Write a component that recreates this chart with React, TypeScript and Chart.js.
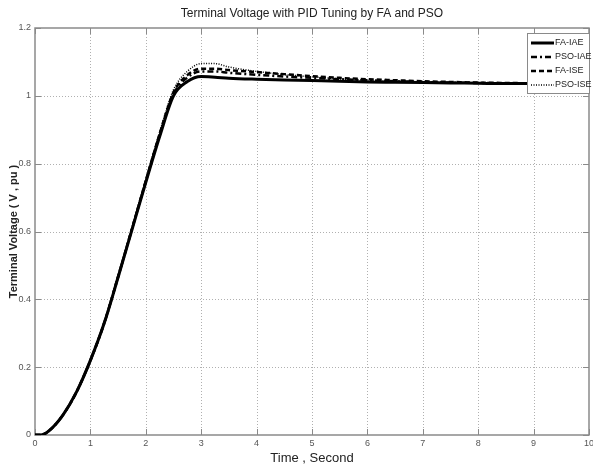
import React, { useEffect, useRef } from "react";
import { Chart, registerables } from "chart.js";

Chart.register(...registerables);

const TIME = [0, 0.1, 0.25, 0.5, 0.75, 1.0, 1.25, 1.5, 1.75, 2.0, 2.25, 2.5, 2.75, 3.0, 3.25, 3.5, 4, 4.5, 5, 5.5, 6, 6.5, 7, 7.5, 8, 8.5, 9, 9.5, 10];

const FA_IAE = [0, 0, 0.012, 0.058, 0.127, 0.22, 0.33, 0.465, 0.605, 0.745, 0.88, 1.0, 1.042, 1.057, 1.055, 1.052, 1.049, 1.047, 1.045, 1.043, 1.041, 1.04, 1.039, 1.038, 1.037, 1.036, 1.036, 1.035, 1.035];
const PSO_IAE = [0, 0, 0.012, 0.058, 0.127, 0.22, 0.33, 0.466, 0.607, 0.748, 0.885, 1.005, 1.054, 1.072, 1.072, 1.068, 1.062, 1.057, 1.053, 1.049, 1.046, 1.043, 1.041, 1.039, 1.038, 1.037, 1.036, 1.035, 1.035];
const FA_ISE = [0, 0, 0.012, 0.058, 0.127, 0.22, 0.331, 0.467, 0.608, 0.75, 0.888, 1.01, 1.061, 1.08, 1.08, 1.076, 1.07, 1.064, 1.058, 1.053, 1.049, 1.046, 1.043, 1.041, 1.039, 1.038, 1.037, 1.036, 1.036];
const PSO_ISE = [0, 0, 0.012, 0.058, 0.127, 0.22, 0.332, 0.468, 0.61, 0.753, 0.893, 1.018, 1.072, 1.095, 1.095, 1.085, 1.072, 1.063, 1.056, 1.05, 1.046, 1.043, 1.041, 1.039, 1.038, 1.037, 1.036, 1.035, 1.035];

const SERIES_NAMES = ["FA-IAE", "PSO-IAE", "FA-ISE", "PSO-ISE"];
const X_TICKS = [0, 1, 2, 3, 4, 5, 6, 7, 8, 9, 10];
const Y_TICKS = [0, 0.2, 0.4, 0.6, 0.8, 1, 1.2];

const TITLE = "Terminal Voltage with PID Tuning by FA and PSO";
const X_TITLE = "Time , Second";
const Y_TITLE = "Terminal Voltage ( V , pu )";

const FONT = "'Liberation Sans Narrow', 'Liberation Sans', Arial, sans-serif";

const pts = (ys: number[]) => TIME.map((t, i) => ({ x: t, y: ys[i] }));

const framePlugin = {
  id: "frame",
  beforeDatasetsDraw(chart: any) {
    const { ctx, chartArea: a, scales } = chart;
    const xs = scales.x;
    const ys = scales.y;
    ctx.save();
    ctx.strokeStyle = "#b0b0b0";
    ctx.lineWidth = 1;
    ctx.setLineDash([1, 2]);
    X_TICKS.forEach((v) => {
      const px = Math.round(xs.getPixelForValue(v)) + 0.5;
      if (v === 0 || v === 10) return;
      ctx.beginPath();
      ctx.moveTo(px, a.top);
      ctx.lineTo(px, a.bottom);
      ctx.stroke();
    });
    Y_TICKS.forEach((v) => {
      const py = Math.round(ys.getPixelForValue(v)) + 0.5;
      if (v === 0 || v === 1.2) return;
      ctx.beginPath();
      ctx.moveTo(a.left, py);
      ctx.lineTo(a.right, py);
      ctx.stroke();
    });
    ctx.setLineDash([]);
    ctx.strokeStyle = "#8a8a8a";
    ctx.lineWidth = 1.5;
    ctx.strokeRect(a.left, a.top, a.right - a.left, a.bottom - a.top);
    ctx.lineWidth = 1;
    X_TICKS.forEach((v) => {
      const px = Math.round(xs.getPixelForValue(v)) + 0.5;
      ctx.beginPath();
      ctx.moveTo(px, a.bottom);
      ctx.lineTo(px, a.bottom - 6);
      ctx.moveTo(px, a.top);
      ctx.lineTo(px, a.top + 6);
      ctx.stroke();
    });
    Y_TICKS.forEach((v) => {
      const py = Math.round(ys.getPixelForValue(v)) + 0.5;
      ctx.beginPath();
      ctx.moveTo(a.left, py);
      ctx.lineTo(a.left + 6, py);
      ctx.moveTo(a.right, py);
      ctx.lineTo(a.right - 6, py);
      ctx.stroke();
    });
    ctx.restore();
  },
  afterDraw(chart: any) {
    const { ctx, chartArea: a } = chart;
    ctx.save();
    ctx.fillStyle = "#222";
    ctx.font = `12px ${FONT}`;
    ctx.textAlign = "center";
    ctx.textBaseline = "middle";
    ctx.fillText(TITLE, (a.left + a.right) / 2, 14);
    const bx = 527, by = 33, bw = 62, bh = 60;
    ctx.fillStyle = "#fff";
    ctx.fillRect(bx, by, bw, bh);
    ctx.strokeStyle = "#8a8a8a";
    ctx.lineWidth = 1;
    ctx.strokeRect(bx + 0.5, by + 0.5, bw, bh);
    const rows = [43, 57, 71, 85];
    chart.data.datasets.forEach((ds: any, i: number) => {
      const y = rows[i];
      ctx.strokeStyle = ds.borderColor;
      ctx.lineWidth = ds.borderWidth;
      ctx.setLineDash(ds.borderDash || []);
      ctx.beginPath();
      ctx.moveTo(531, y);
      ctx.lineTo(554, y);
      ctx.stroke();
      ctx.setLineDash([]);
      ctx.fillStyle = "#222";
      ctx.font = `9px ${FONT}`;
      ctx.textAlign = "left";
      ctx.textBaseline = "middle";
      ctx.fillText(ds.label, 555, y);
    });
    ctx.restore();
  },
};

export default function App() {
  const ref = useRef<HTMLCanvasElement>(null);
  useEffect(() => {
    if (!ref.current) return;
    const chart = new Chart(ref.current, {
      type: "line",
      data: {
        datasets: [
          { label: SERIES_NAMES[0], data: pts(FA_IAE), borderColor: "#000", borderWidth: 3, borderDash: [] },
          { label: SERIES_NAMES[1], data: pts(PSO_IAE), borderColor: "#000", borderWidth: 2.5, borderDash: [6, 3, 2, 3] },
          { label: SERIES_NAMES[2], data: pts(FA_ISE), borderColor: "#000", borderWidth: 2.5, borderDash: [5, 3] },
          { label: SERIES_NAMES[3], data: pts(PSO_ISE), borderColor: "#000", borderWidth: 1.5, borderDash: [1, 1.5] },
        ] as any,
      },
      options: {
        animation: false,
        responsive: false,
        maintainAspectRatio: false,
        layout: { padding: { top: 28, right: 4, left: 0, bottom: 0 } },
        elements: {
          point: { radius: 0 },
          line: { cubicInterpolationMode: "monotone", fill: false },
        },
        plugins: {
          legend: { display: false },
          title: { display: false },
          tooltip: { enabled: false },
        },
        scales: {
          x: {
            type: "linear",
            min: 0,
            max: 10,
            afterFit: (s: any) => { s.height = 33; s.paddingRight = 0; s.paddingLeft = 0; },
            afterBuildTicks: (s: any) => { s.ticks = X_TICKS.map((v) => ({ value: v })); },
            grid: { display: false, drawTicks: false },
            border: { display: false },
            ticks: { padding: 3, color: "#555", font: { size: 9, family: FONT }, callback: (v: any) => String(v) },
            title: { display: true, text: X_TITLE, color: "#222", font: { size: 13, family: FONT }, padding: { top: 0, bottom: 2 } },
          },
          y: {
            type: "linear",
            min: 0,
            max: 1.2,
            afterFit: (s: any) => { s.width = 35; s.paddingTop = 0; s.paddingBottom = 0; },
            afterBuildTicks: (s: any) => { s.ticks = Y_TICKS.map((v) => ({ value: v })); },
            grid: { display: false, drawTicks: false },
            border: { display: false },
            ticks: { padding: 4, color: "#555", font: { size: 9, family: FONT }, callback: (v: any) => String(Math.round(v * 10) / 10) },
            title: { display: true, text: Y_TITLE, color: "#222", font: { size: 11, weight: "bold", family: "'Liberation Sans', Arial, sans-serif" }, padding: { top: 7, bottom: 0 } },
          },
        },
      } as any,
      plugins: [framePlugin],
    });
    return () => chart.destroy();
  }, []);
  return (
    <div style={{ position: "fixed", left: 0, top: 0, width: 593, height: 468, background: "#fff" }}>
      <canvas ref={ref} width={593} height={468} style={{ display: "block" }} />
    </div>
  );
}
